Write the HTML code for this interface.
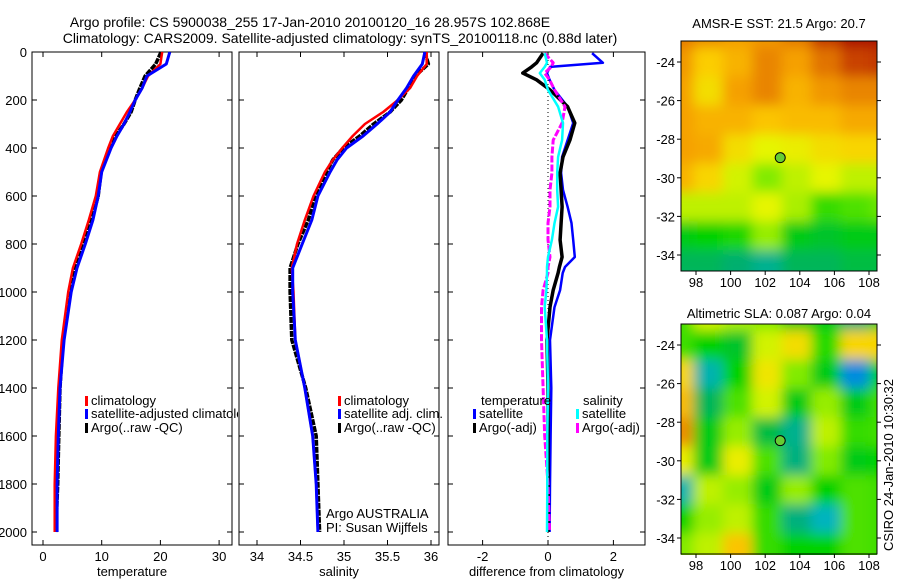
<!DOCTYPE html>
<html><head><meta charset="utf-8"><style>
html,body{margin:0;padding:0;background:#fff;}
svg{display:block;font-family:"Liberation Sans",sans-serif;}
</style></head><body>
<svg id="fig" width="900" height="580" viewBox="0 0 900 580">
<defs>
<filter id="blur" x="-20%" y="-20%" width="140%" height="140%"><feGaussianBlur stdDeviation="6"/></filter>
<clipPath id="clipSST"><rect x="681" y="41" width="196" height="230"/></clipPath>
<clipPath id="clipSLA"><rect x="681" y="324" width="196" height="231"/></clipPath>
<clipPath id="clipLeg"><rect x="0" y="380" width="238" height="60"/></clipPath>
</defs>
<text x="310" y="27" font-size="14" text-anchor="middle">Argo profile: CS 5900038_255 17-Jan-2010 20100120_16 28.957S 102.868E</text>
<text x="340" y="43" font-size="14" text-anchor="middle">Climatology: CARS2009. Satellite-adjusted climatology: synTS_20100118.nc (0.88d later)</text>
<text x="779" y="28" font-size="13" text-anchor="middle">AMSR-E SST: 21.5 Argo: 20.7</text>
<text x="779" y="318" font-size="13" text-anchor="middle">Altimetric SLA: 0.087 Argo: 0.04</text>
<text transform="translate(893,465) rotate(-90)" font-size="13" text-anchor="middle">CSIRO 24-Jan-2010 10:30:32</text>
<g id="plots"></g>
</svg>
<script>
// ---- data ----
const depths = [0,50,100,150,200,250,300,350,400,500,600,700,800,900,1000,1200,1400,1600,1800,2000];
const tempClim = [20.3,20.0,17.9,16.9,15.7,14.3,13.1,11.9,11.1,9.7,9.0,7.8,6.5,5.1,4.3,3.2,2.6,2.2,2.0,2.0];
const tempSat  = [21.6,21.0,17.7,16.9,15.7,14.8,13.8,12.6,11.6,10.0,9.4,8.5,7.2,5.8,4.8,3.6,2.9,2.6,2.4,2.4];
const tempArgo = [20.1,19.2,17.4,16.5,15.7,15.0,13.8,12.4,11.4,9.9,9.4,8.3,7.0,5.5,4.6,3.4,2.9,2.7,2.5,2.2];
const salDepths = [0,50,100,150,200,250,300,350,400,450,500,600,700,800,900,1000,1200,1400,1600,1800,2000];
const salClim = [35.95,35.95,35.84,35.76,35.62,35.45,35.24,35.10,34.98,34.87,34.78,34.65,34.55,34.46,34.40,34.42,34.44,34.55,34.64,34.68,34.70];
const salSat  = [35.93,35.90,35.80,35.72,35.62,35.53,35.38,35.22,35.03,34.92,34.84,34.70,34.63,34.52,34.41,34.41,34.44,34.55,34.64,34.68,34.70];
const salArgo = [35.93,35.97,35.82,35.74,35.66,35.53,35.34,35.18,34.99,34.87,34.80,34.67,34.59,34.47,34.38,34.38,34.40,34.56,34.68,34.70,34.72];
const diffDepths = [5,45,62,88,116,158,228,296,367,437,504,575,645,713,783,854,896,921,992,1063,1200,1400,1600,1800,2000];
const diffTempSat  = [1.35,1.68,0.06,-0.03,0.05,0.2,0.6,0.77,0.6,0.43,0.4,0.46,0.6,0.72,0.77,0.82,0.52,0.45,0.37,0.2,0.06,0.1,0.08,0.06,0.05];
const diffTempArgo = [-0.15,-0.35,-0.5,-0.77,-0.35,0.06,0.6,0.82,0.67,0.46,0.37,0.4,0.43,0.4,0.37,0.43,0.35,0.31,0.16,0.06,-0.03,0.0,0.0,0.0,0.0];
const diffSalArgo  = [-0.1,0.16,0.1,-0.1,0.05,0.2,0.52,0.43,0.16,0.12,0.12,0.06,0.06,0.0,0.0,0.06,0.0,0.0,-0.15,-0.2,-0.2,-0.15,-0.1,0.0,0.05];
const diffSalSat   = [-0.1,-0.03,-0.1,-0.25,-0.1,0.0,0.31,0.46,0.43,0.31,0.28,0.28,0.31,0.2,0.12,0.0,-0.03,-0.03,-0.05,-0.1,-0.03,0.0,-0.02,-0.02,-0.03];
const tempTicks = [0,10,20,30];
const salTicks = ["34","34.5","35","35.5","36"];
const diffTicks = [-2,0,2];
const depthTicks = [0,200,400,600,800,1000,1200,1400,1600,1800,2000];
const lonTicks = [98,100,102,104,106,108];
const latTicks = [-24,-26,-28,-30,-32,-34];
const argoLon = 102.868, argoLat = -28.957;
const gridLons = [97,98.7,100.4,102.1,103.8,105.5,107.2,108.9];
const gridLats = [-22.5,-24,-25.5,-27,-28.5,-30,-31.5,-33,-34.5,-36];
const sstGrid = [
[0.78,0.74,0.70,0.72,0.78,0.90,0.97,0.97],
[0.72,0.60,0.66,0.76,0.70,0.80,0.88,0.90],
[0.70,0.56,0.70,0.76,0.66,0.72,0.76,0.76],
[0.70,0.66,0.66,0.62,0.64,0.64,0.68,0.68],
[0.70,0.68,0.56,0.50,0.52,0.56,0.58,0.58],
[0.66,0.58,0.48,0.40,0.46,0.50,0.46,0.46],
[0.46,0.46,0.46,0.50,0.44,0.34,0.36,0.38],
[0.28,0.30,0.32,0.42,0.28,0.26,0.28,0.28],
[0.22,0.22,0.20,0.16,0.22,0.22,0.24,0.24],
[0.14,0.16,0.14,0.10,0.16,0.18,0.20,0.20]];
const slaGrid = [
[0.35,0.48,0.44,0.40,0.28,0.28,0.18,0.30],
[0.35,0.30,0.26,0.48,0.56,0.33,0.58,0.58],
[0.58,0.12,0.30,0.54,0.40,0.28,0.02,0.30],
[0.64,0.22,0.36,0.48,0.28,0.42,0.28,0.35],
[0.74,0.28,0.42,0.24,0.16,0.46,0.34,0.35],
[0.52,0.28,0.52,0.36,0.18,0.40,0.28,0.30],
[0.12,0.46,0.42,0.28,0.42,0.30,0.36,0.35],
[0.30,0.42,0.46,0.34,0.18,0.10,0.36,0.35],
[0.40,0.46,0.62,0.34,0.30,0.30,0.36,0.35],
[0.40,0.46,0.62,0.34,0.30,0.30,0.36,0.35]];

const NS='http://www.w3.org/2000/svg';
const root=document.getElementById('plots');
function mk(tag,attrs,parent){const e=document.createElementNS(NS,tag);for(const k in attrs)e.setAttribute(k,attrs[k]);(parent||root).appendChild(e);return e;}
const yD = d => 52 + d*0.24;

function panel(name,x0,x1,xScale,ticks,xlabel){
  const g=mk('g',{});
  
  
  const fr=mk('rect',{x:x0,y:52,width:x1-x0,height:493,fill:'none',stroke:'#000','stroke-width':1},g);
  
  
  ticks.forEach(t=>{const x=xScale(+t);
    mk('line',{x1:x,x2:x,y1:545,y2:540,stroke:'#000'},g);
    mk('line',{x1:x,x2:x,y1:52,y2:57,stroke:'#000'},g);
    const tx=mk('text',{x:x,y:561,'font-size':13,'text-anchor':'middle'},g);tx.textContent=t;
    
    
  });
  depthTicks.forEach(d=>{const y=yD(d);
    mk('line',{x1:x0,x2:x0+5,y1:y,y2:y,stroke:'#000'},g);
    mk('line',{x1:x1,x2:x1-5,y1:y,y2:y,stroke:'#000'},g);
  });
  const xl=mk('text',{x:(x0+x1)/2,y:576,'font-size':13,'text-anchor':'middle'},g);xl.textContent=xlabel;
  
  
  return g;
}
function line(g,xs,ds,xScale,color,w,name,dash){
  const p=mk('polyline',{points:xs.map((v,i)=>xScale(v).toFixed(1)+','+yD(ds[i]).toFixed(1)).join(' '),fill:'none',stroke:color,'stroke-width':w,'stroke-linejoin':'round'},g);
  if(dash)p.setAttribute('stroke-dasharray',dash);
  
  
}
function legend(g,x,y,color,label,name){
  const r=mk('rect',{x:x,y:y-9,width:3,height:10,fill:color},g);
  
  
  const t=mk('text',{x:x+6,y:y,'font-size':13},g);t.textContent=label;
  
  
}
depthTicks.forEach(d=>{const t=mk('text',{x:27,y:yD(d)+5,'font-size':13,'text-anchor':'end'});t.textContent=d;
  
  });

// panel 1
const xT=v=>43+v*5.87;
const g1=panel('temperature',32,232,xT,tempTicks,'temperature');
line(g1,tempArgo,depths,xT,'#000',3.5,'argo-temperature-line','6 1');
line(g1,tempClim,depths,xT,'#f00',2.5,'climatology-temperature-line');
line(g1,tempSat,depths,xT,'#00f',3,'satellite-temperature-line');
const leg1=mk('g',{'clip-path':'url(#clipLeg)'},g1);


legend(leg1,85,405,'#f00','climatology','legend-climatology');
legend(leg1,85,418,'#00f','satellite-adjusted climatology','legend-satellite-adjusted');
legend(leg1,85,432,'#000','Argo(..raw -QC)','legend-argo');

// panel 2
const xS=v=>257+(v-34)*87;
const g2=panel('salinity',239,439,xS,salTicks,'salinity');
line(g2,salArgo,salDepths,xS,'#000',3.5,'argo-salinity-line','6 1');
line(g2,salClim,salDepths,xS,'#f00',2.5,'climatology-salinity-line');
line(g2,salSat,salDepths,xS,'#00f',3,'satellite-salinity-line');
legend(g2,338,405,'#f00','climatology','legend-climatology-sal');
legend(g2,338,418,'#00f','satellite adj. clim.','legend-satellite-sal');
legend(g2,338,432,'#000','Argo(..raw -QC)','legend-argo-sal');
[['Argo AUSTRALIA',518],['PI: Susan Wijffels',532]].forEach(([s,y])=>{const t=mk('text',{x:326,y:y,'font-size':13},g2);t.textContent=s;
  
  });

// panel 3
const xDf=v=>548+v*32.7;
const g3=panel('difference',448,645,xDf,diffTicks,'difference from climatology');
const zl=mk('line',{x1:548,x2:548,y1:52,y2:545,stroke:'#000','stroke-dasharray':'1 3'},g3);


line(g3,diffTempSat,diffDepths,xDf,'#00f',2.5,'satellite-temp-diff-line');
line(g3,diffTempArgo,diffDepths,xDf,'#000',3.5,'argo-temp-diff-line');
line(g3,diffSalArgo,diffDepths,xDf,'#f0f',3,'argo-sal-diff-line','7 2');
line(g3,diffSalSat,diffDepths,xDf,'#0ff',2.5,'satellite-sal-diff-line');
[['temperature',481],['salinity',583]].forEach(([s,x])=>{const t=mk('text',{x:x,y:405,'font-size':13},g3);t.textContent=s;
  
  });
legend(g3,473,418,'#00f','satellite','legend-temp-satellite');
legend(g3,473,432,'#000','Argo(-adj)','legend-temp-argo');
legend(g3,576,418,'#0ff','satellite','legend-sal-satellite');
legend(g3,576,432,'#f0f','Argo(-adj)','legend-sal-argo');

// colormap
const stops=[[0,[0,130,230]],[0.1,[0,180,190]],[0.2,[0,175,110]],[0.3,[0,210,0]],[0.4,[130,235,0]],[0.5,[230,245,0]],[0.6,[252,205,0]],[0.7,[245,160,0]],[0.8,[225,115,0]],[0.9,[195,55,0]],[1,[160,0,0]]];
function cmap(v){for(let i=1;i<stops.length;i++){if(v<=stops[i][0]){const a=stops[i-1],b=stops[i],t=(v-a[0])/(b[0]-a[0]);return 'rgb('+a[1].map((c,k)=>Math.round(c+(b[1][k]-c)*t)).join(',')+')';}}return 'rgb(160,0,0)';}

function map(name,top,grid,clip){
  const x0=681,x1=877,y1=top+230;
  const lonX=l=>696+(l-98)*17.3;
  const latY=l=>top+21+(-24-l)*19.3;
  const g=mk('g',{});
  
  
  const cg=mk('g',{'clip-path':'url(#'+clip+')'},g);
  const bg=mk('g',{filter:'url(#blur)'},cg);
  grid.forEach((row,r)=>row.forEach((v,c)=>{
    const xa=lonX(gridLons[c]-0.85), ya=latY(gridLats[r]+0.75);
    const cell=mk('rect',{x:xa.toFixed(1),y:ya.toFixed(1),width:(17.3*1.7+1).toFixed(1),height:(19.3*1.5+1).toFixed(1),fill:cmap(v)},bg);
    
    
  }));
  mk('rect',{x:x0,y:top,width:x1-x0,height:230,fill:'none',stroke:'#000'},g);
  lonTicks.forEach(l=>{const x=lonX(l);
    mk('line',{x1:x,x2:x,y1:y1,y2:y1+4,stroke:'#000'},g);
    const t=mk('text',{x:x,y:y1+16,'font-size':13,'text-anchor':'middle'},g);t.textContent=l;
    
    });
  latTicks.forEach(l=>{const y=latY(l);
    mk('line',{x1:x0-4,x2:x0,y1:y,y2:y,stroke:'#000'},g);
    mk('line',{x1:x1,x2:x1+4,y1:y,y2:y,stroke:'#000'},g);
    const t=mk('text',{x:x0-6,y:y+5,'font-size':13,'text-anchor':'end'},g);t.textContent=l;
    
    });
  const c=mk('circle',{cx:lonX(argoLon),cy:latY(argoLat),r:5,fill:'#6c3',stroke:'#000','stroke-width':1},g);
  
  
}
map('sst',41,sstGrid,'clipSST');
map('sla',324,slaGrid,'clipSLA');
</script>
</body></html>
